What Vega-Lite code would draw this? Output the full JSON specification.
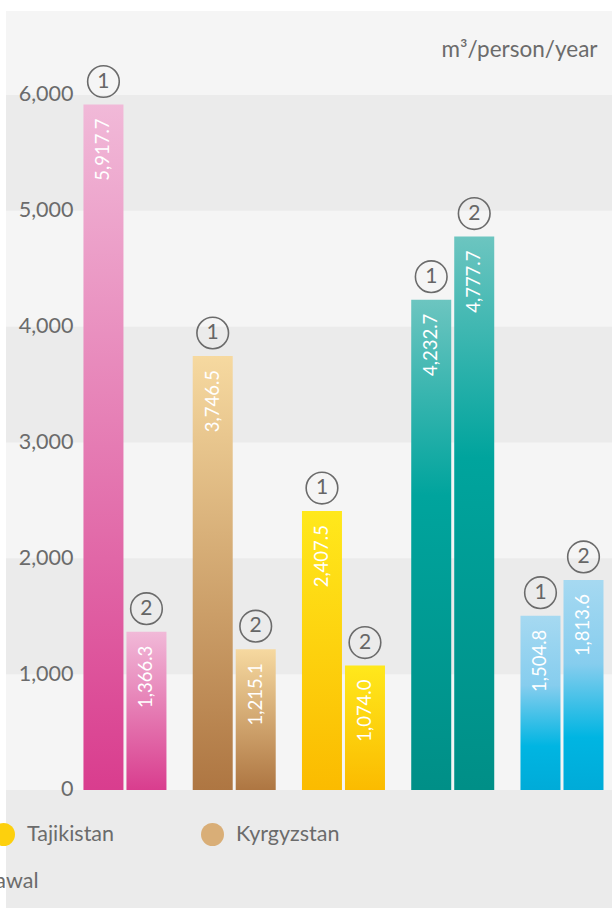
{
  "$schema": "https://vega.github.io/schema/vega-lite/v6.json",
  "width": 606,
  "height": 897,
  "autosize": {"type": "none"},
  "padding": {"left": 6, "top": 11, "right": 0, "bottom": 0},
  "background": "#ffffff",
  "config": {"font": "Lato", "view": {"fill": "#f5f5f5", "stroke": null}},
  "datasets": {
    "bands": [
      {"lo": 1000, "hi": 2000},
      {"lo": 3000, "hi": 4000},
      {"lo": 5000, "hi": 6000},
      {"lo": -1019, "hi": 0}
    ],
    "water": [
      {"country": "Kazakhstan", "series": "1", "value": 5917.7},
      {"country": "Kazakhstan", "series": "2", "value": 1366.3},
      {"country": "Kyrgyzstan", "series": "1", "value": 3746.5},
      {"country": "Kyrgyzstan", "series": "2", "value": 1215.1},
      {"country": "Tajikistan", "series": "1", "value": 2407.5},
      {"country": "Tajikistan", "series": "2", "value": 1074.0},
      {"country": "Turkmenistan", "series": "1", "value": 4232.7},
      {"country": "Turkmenistan", "series": "2", "value": 4777.7},
      {"country": "Uzbekistan", "series": "1", "value": 1504.8},
      {"country": "Uzbekistan", "series": "2", "value": 1813.6}
    ]
  },
  "encoding": {
    "x": {
      "field": "country",
      "type": "nominal",
      "axis": null,
      "scale": {
        "domain": ["Kazakhstan", "Kyrgyzstan", "Tajikistan", "Turkmenistan", "Uzbekistan"],
        "paddingInner": 0.2403, "paddingOuter": 0.3934, "align": 0.901
      }
    },
    "xOffset": {
      "field": "series",
      "type": "nominal",
      "scale": {"domain": ["1", "2"], "paddingInner": 0.0698, "paddingOuter": 0}
    },
    "y": {
      "field": "value",
      "type": "quantitative",
      "scale": {"domain": [-1019, 6725], "nice": false, "zero": false},
      "axis": {
        "title": "m³/person/year",
        "titleAngle": 0,
        "titleAlign": "right",
        "titleBaseline": "middle",
        "titleX": 524,
        "titleY": 38,
        "titleFontSize": 22.5,
        "titleFontWeight": "normal",
        "titleColor": "#6b6b6b",
        "values": [0, 1000, 2000, 3000, 4000, 5000, 6000],
        "format": ",.0f",
        "labelFontSize": 21.5,
        "labelColor": "#6b6b6b",
        "domain": false,
        "ticks": false,
        "tickSize": 0,
        "labelPadding": 0,
        "grid": false,
        "offset": -67,
        "zindex": 1
      }
    }
  },
  "layer": [
    {
      "data": {"name": "bands"},
      "mark": {"type": "rect", "color": "#ebebeb"},
      "encoding": {
        "x": null,
        "xOffset": null,
        "y": {
          "field": "lo",
          "type": "quantitative",
          "scale": {"domain": [-1019, 6725], "nice": false, "zero": false},
          "axis": {
            "title": "m³/person/year",
            "titleAngle": 0,
            "titleAlign": "right",
            "titleBaseline": "middle",
            "titleX": 524,
            "titleY": 38,
            "titleFontSize": 22.5,
            "titleFontWeight": "normal",
            "titleColor": "#6b6b6b",
            "values": [0, 1000, 2000, 3000, 4000, 5000, 6000],
            "format": ",.0f",
            "labelFontSize": 21.5,
            "labelColor": "#6b6b6b",
            "domain": false,
            "ticks": false,
            "tickSize": 0,
            "labelPadding": 0,
            "grid": false,
            "offset": -67,
            "zindex": 1
          }
        },
        "y2": {"field": "hi"}
      }
    },
    {
      "data": {"name": "water"},
      "transform": [{"filter": "datum.country === 'Kazakhstan'"}],
      "mark": {"type": "bar", "color": {"gradient": "linear", "x1": 0, "y1": 0, "x2": 0, "y2": 1, "stops": [{"offset": 0, "color": "#f1b9d8"}, {"offset": 1, "color": "#d93d8e"}]}},
      "encoding": {"y2": {"datum": 0}}
    },
    {
      "data": {"name": "water"},
      "transform": [{"filter": "datum.country === 'Kyrgyzstan'"}],
      "mark": {"type": "bar", "color": {"gradient": "linear", "x1": 0, "y1": 0, "x2": 0, "y2": 1, "stops": [{"offset": 0, "color": "#f6d9a0"}, {"offset": 1, "color": "#ae7642"}]}},
      "encoding": {"y2": {"datum": 0}}
    },
    {
      "data": {"name": "water"},
      "transform": [{"filter": "datum.country === 'Tajikistan'"}],
      "mark": {"type": "bar", "color": {"gradient": "linear", "x1": 0, "y1": 0, "x2": 0, "y2": 1, "stops": [{"offset": 0, "color": "#ffe81c"}, {"offset": 1, "color": "#fbbb00"}]}},
      "encoding": {"y2": {"datum": 0}}
    },
    {
      "data": {"name": "water"},
      "transform": [{"filter": "datum.country === 'Turkmenistan'"}],
      "mark": {"type": "bar", "color": {"gradient": "linear", "x1": 0, "y1": 0, "x2": 0, "y2": 1, "stops": [{"offset": 0, "color": "#6cc5c0"}, {"offset": 0.4, "color": "#00a49d"}, {"offset": 1, "color": "#008f87"}]}},
      "encoding": {"y2": {"datum": 0}}
    },
    {
      "data": {"name": "water"},
      "transform": [{"filter": "datum.country === 'Uzbekistan'"}],
      "mark": {"type": "bar", "color": {"gradient": "linear", "x1": 0, "y1": 0, "x2": 0, "y2": 1, "stops": [{"offset": 0, "color": "#a6d9f1"}, {"offset": 0.4, "color": "#86cdee"}, {"offset": 0.75, "color": "#00b5e2"}, {"offset": 1, "color": "#00abd8"}]}},
      "encoding": {"y2": {"datum": 0}}
    },
    {
      "data": {"name": "water"},
      "transform": [{"filter": "false"}],
      "mark": {"type": "circle"},
      "encoding": {
        "color": {
          "field": "country",
          "type": "nominal",
          "scale": {
            "domain": ["Kazakhstan", "Kyrgyzstan", "Tajikistan", "Turkmenistan", "Uzbekistan"],
            "range": ["#e27bb3", "#d9ae77", "#fdd00d", "#00a49d", "#5fc3ea"]
          },
          "legend": {
            "values": ["Tajikistan", "Kyrgyzstan"],
            "orient": "none",
            "direction": "horizontal",
            "legendX": -14,
            "legendY": 812,
            "title": null,
            "padding": 0,
            "symbolType": "circle",
            "symbolSize": 529,
            "symbolStrokeWidth": 0,
            "symbolOpacity": 1,
            "labelOffset": 12,
            "columnPadding": 86,
            "labelFontSize": 21.5,
            "labelColor": "#6b6b6b"
          }
        }
      }
    },
    {
      "data": {"name": "water"},
      "mark": {"type": "text", "angle": 270, "align": "right", "baseline": "middle", "dx": -14, "color": "#ffffff", "fontSize": 18.5},
      "encoding": {
        "text": {"field": "value", "type": "quantitative", "format": ",.1f"}
      }
    },
    {
      "data": {"name": "water"},
      "mark": {"type": "point", "filled": false, "size": 1000, "stroke": "#6b6b6b", "strokeWidth": 1.6, "yOffset": -23, "opacity": 1},
      "encoding": {
        "shape": {
          "field": "series",
          "type": "nominal",
          "scale": {"range": ["circle", "circle"]},
          "legend": {
            "values": ["2"],
            "labelExpr": "'Water withdrawal'",
            "orient": "none",
            "legendX": 11,
            "legendY": 860,
            "title": null,
            "padding": 0,
            "symbolSize": 100,
            "symbolOpacity": 0,
            "labelOffset": 0,
            "labelAlign": "right",
            "labelLimit": 600,
            "labelFontSize": 21.5,
            "labelColor": "#6b6b6b"
          }
        }
      }
    },
    {
      "data": {"name": "water"},
      "mark": {"type": "text", "dy": -23, "align": "center", "baseline": "middle", "color": "#666666", "fontSize": 21},
      "encoding": {
        "text": {"field": "series", "type": "nominal"}
      }
    }
  ]
}
